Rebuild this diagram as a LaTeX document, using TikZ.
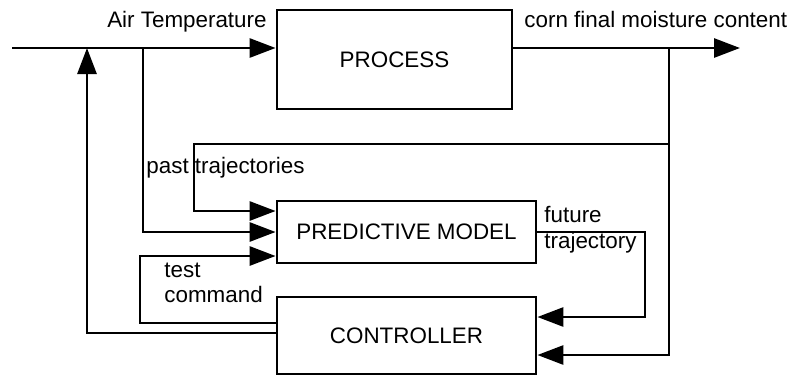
\documentclass[tikz,border=0pt]{standalone}
\usepackage{fontspec}
\setmainfont{Liberation Sans}
\usetikzlibrary{arrows.meta}

\begin{document}
\begin{tikzpicture}[x = 0.5pt, y = -0.5pt, line width = 1.4pt,
  block/.style = {draw = black, minimum width = 129.5pt, minimum height = 31pt, inner sep = 0pt},
  lbl/.style = {anchor = base west, inner sep = 0pt},
  tip/.style = {-{Triangle[length = 13pt, width = 9.5pt]}},
  every node/.style = {font = \fontsize{11.2}{13}\selectfont}]
\useasboundingbox (0, 0) rectangle (790, 376);

\node [block, minimum width = 117.5pt, minimum height = 49.5pt] (process) at (394.5, 59.5) {PROCESS};
\node [block] (model) at (406.5, 232) {PREDICTIVE MODEL};
\node [block, minimum height = 38.5pt] (ctrl) at (406.5, 335.5) {CONTROLLER};

\node [lbl, anchor = base east] (airtemp) at (268, 27) {Air Temperature};
\node [lbl] (moist) at (523, 27) {corn final moisture content};
\node [lbl] (past) at (145, 173) {past trajectories};
\node [lbl] (future) at (543, 222) {future};
\node [lbl] (futureb) at (543, 248) {trajectory};
\node [lbl] (test) at (163, 277) {test};
\node [lbl] (testb) at (163, 302) {command};

\coordinate (in) at (12, 48);
\coordinate (out) at (740, 48);
\coordinate (tap) at (669, 48);
\coordinate (tapb) at (143, 48);
\coordinate (lvlpast) at (194, 144);
\coordinate (lvlin) at (0, 211);
\coordinate (lvltest) at (140, 323);
\coordinate (lvltestin) at (0, 256);
\coordinate (lvlfb) at (87, 333);
\coordinate (lvlfut) at (645, 317);
\coordinate (lvlout) at (0, 355);

\path [draw, tip] (in) -- (in -| process.west);
\path [draw, tip] (in -| process.east) -- (out);

\path [draw, tip] (tap |- lvlpast) -- (lvlpast) |- (model.west |- lvlin);
\path [draw, tip] (tapb) |- (model.west);
\path [draw, tip] (ctrl.west |- lvltest) -- (lvltest) |- (model.west |- lvltestin);
\path [draw, tip] (ctrl.west |- lvlfb) -- (lvlfb) -- (lvlfb |- in);

\path [draw, tip] (model.east) -| (lvlfut) -- (ctrl.east |- lvlfut);
\path [draw, tip] (tap) |- (ctrl.east |- lvlout);
\end{tikzpicture}
\end{document}
